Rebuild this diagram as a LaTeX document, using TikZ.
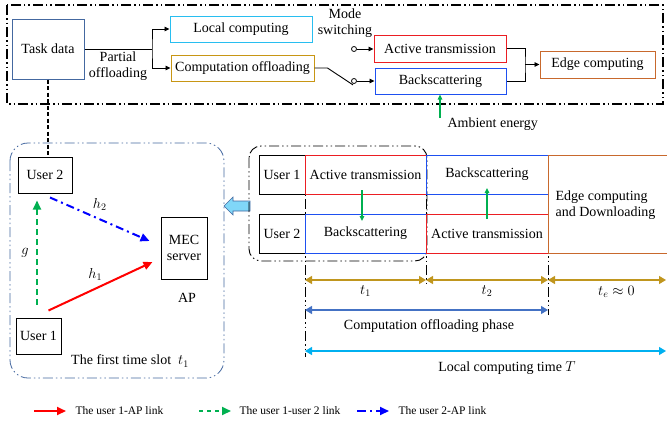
\documentclass[tikz,border=0pt]{standalone}
\usepackage{fontspec}
\setmainfont{Liberation Serif}
\usepackage{amsmath}
\usetikzlibrary{arrows.meta,calc}
\definecolor{framecol}{RGB}{68,104,160}
\definecolor{localcol}{RGB}{40,190,240}
\definecolor{offlcol}{RGB}{200,150,20}
\definecolor{actcol}{RGB}{235,30,35}
\definecolor{backcol}{RGB}{30,80,240}
\definecolor{edgecol}{RGB}{200,105,45}
\definecolor{energycol}{RGB}{0,176,80}
\definecolor{slotcol}{RGB}{192,150,30}
\definecolor{phasecol}{RGB}{68,114,196}
\definecolor{timecol}{RGB}{0,176,240}

\begin{document}
\begin{tikzpicture}[x=1pt,y=-1pt,>={Triangle[length=5pt,width=4.5pt]},
  font=\fontsize{14}{16}\selectfont,
  box/.style={draw,line width=1pt,inner sep=0pt,align=center},
  dashdot/.style={dash pattern=on 10pt off 3pt on 1.5pt off 3pt on 1.5pt off 3pt},
  dimarrow/.style={line width=1.2pt,{Triangle[length=7pt,width=8pt]}-{Triangle[length=7pt,width=8pt]}},
  linkarrow/.style={line width=2pt,-{Triangle[length=9pt,width=8pt]}},
  legend/.style={font=\fontsize{11.5}{13}\selectfont,anchor=west}]
\useasboundingbox (0,0) rectangle (667,424);
% top: task data split into local computing and offloading
\draw[line width=1.5pt,dashdot] (7,5) rectangle (663,104);
\node[box,draw=framecol,minimum width=72pt,minimum height=60pt] (task) at (48,49) {Task data};
\node[box,draw=localcol,minimum width=142pt,minimum height=26pt] (local) at (241,29) {Local computing};
\node[box,draw=offlcol,minimum width=143pt,minimum height=26pt] (offl) at (242.5,68) {Computation offloading};
\node[box,draw=actcol,minimum width=132pt,minimum height=27pt] (act) at (440,48.5) {Active transmission};
\node[box,draw=backcol,minimum width=131pt,minimum height=26pt] (back) at (440.5,81) {Backscattering};
\node[box,draw=edgecol,minimum width=115pt,minimum height=27pt] (edge) at (597.5,64.5) {Edge computing};
\node[align=center] (partial) at (118,66) {Partial\\offloading};
\node[align=center] (mode) at (345,23) {Mode\\switching};
\node[anchor=west] (ambient) at (444,124) {Ambient energy};
\coordinate (split) at (152,49);
\draw[line width=0.9pt] (task.east) -- (split);
\draw[line width=0.9pt,->] (split |- local.west) -- (split) -- (split |- offl.west) -- (offl.west);
\draw[line width=0.9pt,->] (split |- local.west) -- (local.west);
% mode switch
\node[circle,draw,line width=0.8pt,inner sep=0pt,minimum size=5pt] (swup) at (354,49) {};
\node[circle,draw,line width=0.8pt,inner sep=0pt,minimum size=5pt] (swlo) at (354,81) {};
\draw[line width=0.9pt] (offl.east) -- ++(13,0) -- ($(swlo.south)+(-1,1)$);
\draw[line width=0.9pt,->] (swup.east) -- (swup.east -| act.west);
\draw[line width=0.9pt,->] (swlo.east) -- (swlo.east -| back.west);
\coordinate (merge) at (525,64.5);
\draw[line width=0.9pt] (act.east) -| (merge) |- (back.east);
\draw[line width=0.9pt,->] (merge) -- (edge.west);
\coordinate (energy) at (440,118);
\draw[energycol,line width=1.3pt,->] (energy) -- (energy |- back.south);
% left: first time slot
\draw[framecol,line width=0.8pt,dashdot,rounded corners=18pt] (10,143) rectangle (224,378);
\node[box,minimum width=54pt,minimum height=36pt] (usertwo) at (45,175) {User 2};
\node[box,minimum width=45pt,minimum height=36pt] (userone) at (38.5,336) {User 1};
\node[box,minimum width=46pt,minimum height=62pt] (mec) at (184,248) {MEC\\server};
\node (ap) at (187,298) {AP};
\node (slot) at (130,361) {The first time slot~ $t_1$};
\draw[line width=1.3pt,dash pattern=on 4pt off 2.5pt] (task.south) -- (task.south |- usertwo.north);
\draw[linkarrow,red] ([xshift=10pt,yshift=7pt]userone.north) -- ([xshift=-8pt,yshift=-14pt]mec.west) node[pos=0.45,above=4pt,black] (hone) {$h_1$};
\draw[linkarrow,energycol,dash pattern=on 6pt off 4pt] ([xshift=-1.5pt,yshift=13pt]userone.north) -- ([xshift=-8pt,yshift=-7pt]usertwo.south) node[pos=0.5,left=4pt,black] (gain) {$g$};
\draw[linkarrow,blue,dash pattern=on 8pt off 4pt on 2pt off 4pt] ([xshift=5pt,yshift=-4pt]usertwo.south) -- ([xshift=-11pt,yshift=7pt]mec.west) node[pos=0.5,above=4pt,black] (htwo) {$h_2$};
% block arrow between the panels
\draw[framecol,fill=timecol!50,line width=0.6pt] (224,206) -- (233,197) -- (233,201) -- (250,201) -- (250,211) -- (233,211) -- (233,215) -- cycle;
% right: time slots
\draw[line width=0.9pt,dashdot] (305,155) -- (305,357);
\draw[line width=0.9pt,dashdot] (426,155) -- (426,287);
\draw[line width=0.9pt,dashdot] (548,155) -- (548,315);
\draw[line width=0.9pt,dashdot,rounded corners=12pt] (249,146) rectangle (427,261);
\node[box,fill=white,minimum width=46pt,minimum height=39pt] (ruserone) at (282,174.5) {User 1};
\node[box,fill=white,minimum width=46pt,minimum height=39pt] (rusertwo) at (282,233.5) {User 2};
\node[box,draw=actcol,minimum width=121pt,minimum height=39pt] (actone) at (365.5,174.5) {Active transmission};
\node[box,draw=backcol,minimum width=121pt,minimum height=39pt] (backone) at (365.5,233.5) {Backscattering};
\node[box,draw=backcol,minimum width=122pt,minimum height=39pt] (backtwo) at (487,174.5) {Backscattering};
\node[box,draw=actcol,minimum width=122pt,minimum height=39pt] (acttwo) at (487,233.5) {Active transmission};
\draw[edgecol,line width=1pt] (672,155) -- (548,155) -- (548,253) -- (672,253);
\node[align=left,anchor=west] (edgedown) at (552,205) {Edge computing\\and Downloading};
\draw[energycol,line width=1.3pt,->] (362,190) -- (362,221);
\draw[energycol,line width=1.3pt,->] (487,219) -- (487,188);
% time axis
\draw[dimarrow,slotcol] (305,280) -- (426,280) node[midway,below=2pt,black] (tone) {$t_1$};
\draw[dimarrow,slotcol] (426,280) -- (548,280) node[midway,below=2pt,black] (ttwo) {$t_2$};
\draw[dimarrow,slotcol] (548,280) -- (666,280) node[pos=0.58,below=2pt,black] (te) {$t_e\approx 0$};
\draw[dimarrow,phasecol] (305,310) -- (548,310);
\node (phase) at (429,326) {Computation offloading phase};
\draw[dimarrow,timecol] (305,351) -- (666,351);
\node (localtime) at (507,368) {Local computing time $T$};
% legend
\draw[linkarrow,red] (34,411) -- (66,411);
\node[legend] (legone) at (72,411) {The user 1-AP link};
\draw[linkarrow,energycol,dash pattern=on 4pt off 4pt] (199,411) -- (231,411);
\node[legend] (legtwo) at (236,411) {The user 1-user 2 link};
\draw[linkarrow,blue,dash pattern=on 9pt off 4pt on 2pt off 4pt] (357,411) -- (389,411);
\node[legend] (legthree) at (395,411) {The user 2-AP link};
\end{tikzpicture}
\end{document}
